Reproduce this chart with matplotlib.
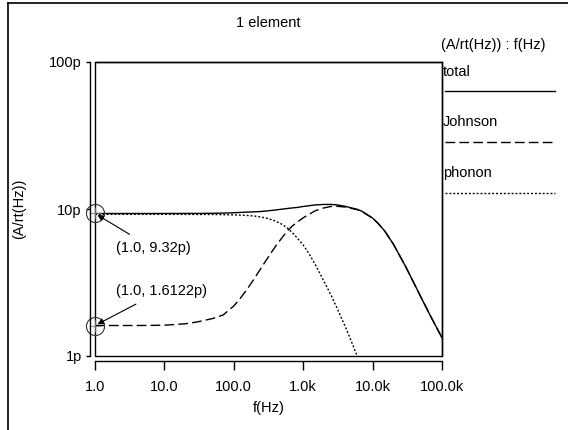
import matplotlib
matplotlib.use("Agg")
import matplotlib.pyplot as plt
from matplotlib.lines import Line2D

plt.rcParams["font.family"] = ["Liberation Sans", "DejaVu Sans"]
plt.rcParams["font.size"] = 10.5

# frequencies (Hz) and noise densities (pA/rt(Hz))
freq = [1, 2, 5, 10, 20, 30, 50, 70, 100, 120, 150, 180, 200, 250, 300,
        350, 400, 500, 600, 700, 800, 1000, 1200, 1500, 2000, 2500, 3000,
        4000, 5000, 6000, 7000, 8000, 10000, 12000, 15000, 20000, 30000,
        50000, 70000, 100000]

total = [9.32, 9.32, 9.32, 9.32, 9.33, 9.33, 9.35, 9.38, 9.43, 9.47, 9.52,
         9.55, 9.57, 9.62, 9.70, 9.78, 9.85, 9.98, 10.09, 10.17, 10.23,
         10.40, 10.52, 10.66, 10.74, 10.74, 10.68, 10.44, 10.16, 9.95, 9.66,
         9.28, 8.68, 7.99, 7.07, 5.75, 4.05, 2.50, 1.83, 1.33]

johnson = [1.6122, 1.612, 1.613, 1.62, 1.656, 1.706, 1.80, 1.90, 2.19,
           2.42, 2.78, 3.15, 3.39, 4.00, 4.56, 5.09, 5.58, 6.42, 7.14, 7.67,
           8.08, 8.71, 9.17, 9.74, 10.18, 10.40, 10.44, 10.32, 10.08, 9.90,
           9.62, 9.25, 8.66, 7.98, 7.06, 5.75, 4.05, 2.50, 1.83, 1.33]

phonon_freq = [1, 2, 5, 10, 20, 50, 100, 150, 200, 250, 300, 400, 500, 600,
               700, 800, 1000, 1200, 1500, 2000, 2500, 3000, 4000, 5000,
               6000, 7000]
phonon = [9.20, 9.20, 9.20, 9.20, 9.19, 9.18, 9.12, 9.05, 8.95, 8.81, 8.65,
          8.28, 7.85, 7.38, 6.89, 6.43, 5.69, 5.01, 4.17, 3.21, 2.61, 2.17,
          1.60, 1.24, 1.00, 0.83]

x_ticks = [1, 10, 100, 1000, 10000, 100000]
x_tick_labels = ["1.0", "10.0", "100.0", "1.0k", "10.0k", "100.0k"]
y_ticks = [1, 10, 100]
y_tick_labels = ["1p", "10p", "100p"]

series = [("total", total, freq, "-"),
          ("Johnson", johnson, freq, (0, (7, 3))),
          ("phonon", phonon, phonon_freq, (0, (1.4, 1.4)))]

W, H = 568, 430
fig = plt.figure(figsize=(W / 100, H / 100), dpi=100)
ax = fig.add_axes([95 / W, 1 - 356 / H, 347 / W, 294 / H])

for name, vals, f, ls in series:
    ax.plot(f, vals, color="black", lw=1.0, linestyle=ls)

ax.set_xscale("log")
ax.set_yscale("log")
ax.set_xlim(1, 1e5)
ax.set_ylim(1, 100)
ax.set_xticks(x_ticks, labels=x_tick_labels)
ax.set_yticks(y_ticks, labels=y_tick_labels)
ax.minorticks_off()

# offset axis lines plus a closed box around the data area
ax.spines["left"].set_position(("outward", 3.6))
ax.spines["bottom"].set_position(("outward", 3.6))
for s in ax.spines.values():
    s.set_linewidth(1.0)
ax.add_patch(plt.Rectangle((0, 0), 1, 1, transform=ax.transAxes, fill=False,
                           lw=1.0, ec="black", clip_on=False))
ax.tick_params(axis="x", direction="out", length=6.5, width=1.0, pad=7)
ax.tick_params(axis="y", direction="out", length=3, width=1.0, pad=3)

ax.set_xlabel("f(Hz)")
ax.xaxis.set_label_coords(0.5, -0.152)
ax.set_ylabel("(A/rt(Hz))")
ax.yaxis.set_label_coords(-0.198, 0.5)

fig.text(268.5 / W, 1 - 23 / H, "1 element", ha="center", va="center")

# markers and value annotations at 1 Hz
for val, off in [(total[0], (58, -35)), (johnson[0], (67, 35))]:
    ax.plot(1, val, "o", mfc="none", mec="#333333", ms=13, mew=0.8,
            clip_on=False)
    ax.plot(1, val, "+", color="#777777", ms=8, mew=0.6, clip_on=False)
    ax.annotate(f"(1.0, {val:g}p)", xy=(1, val), xytext=off,
                textcoords="offset pixels", ha="center", va="center",
                arrowprops=dict(arrowstyle="-|>", color="black", lw=0.8,
                                shrinkA=6, shrinkB=2, mutation_scale=9))

# legend drawn to the right of the box
fig.text(441 / W, 1 - 45 / H, "(A/rt(Hz)) : f(Hz)", ha="left", va="center")
for i, (name, vals, f, ls) in enumerate(series):
    ty = 71.7 + 50.8 * i
    ly = 91 + 50.8 * i
    fig.text(443 / W, 1 - ty / H, name, ha="left", va="center")
    fig.add_artist(Line2D([445 / W, 555 / W], [1 - ly / H, 1 - ly / H],
                          color="black", lw=1.0, linestyle=ls))

# outer frame (top and left edges)
fig.add_artist(Line2D([8 / W, 1], [1 - 3 / H, 1 - 3 / H], color="black", lw=1.2))
fig.add_artist(Line2D([8 / W, 8 / W], [0, 1 - 3 / H], color="black", lw=1.2))

fig.savefig("out.png", dpi=100)
